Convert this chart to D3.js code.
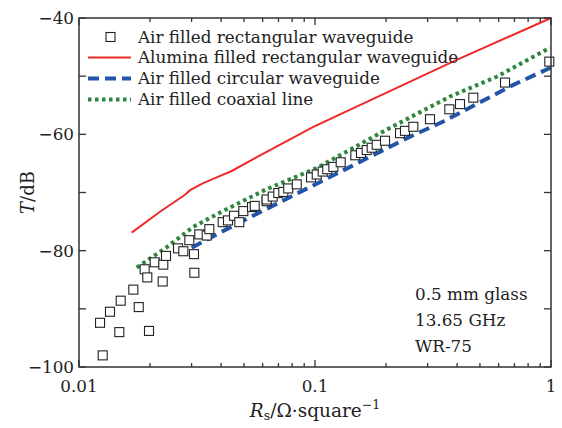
<!DOCTYPE html>
<html>
<head>
<meta charset="utf-8">
<script src="https://cdn.jsdelivr.net/npm/d3@7"></script>
<style>
  body { margin: 0; background: #fff; }
  svg text { font-family: "DejaVu Serif", "Liberation Serif", serif; fill: #222; }
</style>
</head>
<body>
<div id="chart"></div>
<script>
// air filled rectangular waveguide (measured squares)
var rectX = [0.01228, 0.01353, 0.0126, 0.01502, 0.01482, 0.01699, 0.01791, 0.0198, 0.01898, 0.01947,
  0.02093, 0.02276, 0.02263, 0.02337, 0.02628, 0.02767, 0.02934, 0.0307, 0.03082, 0.03234,
  0.03476, 0.03566, 0.04063, 0.04279, 0.04537, 0.04778, 0.04969, 0.05408, 0.05553, 0.06242,
  0.0624, 0.0662, 0.0699, 0.0734, 0.077, 0.0837, 0.0962, 0.1017, 0.1078, 0.1127, 0.1196,
  0.1285, 0.1482, 0.1566, 0.1656, 0.1739, 0.1826, 0.198, 0.2292, 0.2406, 0.261,
  0.3071, 0.3708, 0.4116, 0.4686, 0.6385, 0.9836];
var rectY = [-92.4, -90.5, -98.0, -88.6, -94.0, -86.7, -89.7, -93.8, -83.2, -84.6,
  -82.0, -82.4, -85.3, -80.9, -79.6, -80.1, -78.2, -80.6, -83.8, -77.2,
  -77.4, -76.3, -75.1, -74.8, -74.0, -75.1, -73.2, -72.5, -72.3, -71.5,
  -71.2, -70.7, -70.1, -69.9, -69.3, -68.6, -67.4, -66.9, -66.4, -66.0, -65.6,
  -64.8, -63.6, -63.2, -62.7, -62.3, -61.8, -61.1, -59.8, -59.4, -58.7,
  -57.4, -55.7, -54.8, -53.7, -51.1, -47.5];

// alumina filled rectangular waveguide
var aluX = [0.01672, 0.02204, 0.02813, 0.02954, 0.03363, 0.03833, 0.04436, 0.0624, 0.0984, 0.3985, 1.0];
var aluY = [-76.9, -73.3, -70.4, -69.6, -68.4, -67.4, -66.3, -63.0, -58.7, -47.2, -40.0];

// air filled circular waveguide
var circX = [0.03003, 0.0371, 0.0505, 0.0604, 0.2527, 0.3496, 0.6922, 1.0];
var circY = [-79.5, -77.5, -74.7, -73.1, -60.4, -57.8, -51.5, -48.5];

// air filled coaxial line
var coaxX = [0.01756, 0.02337, 0.0305, 0.04024, 0.0618, 0.1017, 0.1948, 0.3733, 0.5888, 0.9904];
var coaxY = [-82.9, -79.5, -75.9, -73.3, -69.5, -65.8, -59.5, -53.5, -50.1, -45.1];

var legendLabels = ["Air filled rectangular waveguide", "Alumina filled rectangular waveguide",
  "Air filled circular waveguide", "Air filled coaxial line"];
var noteLines = ["0.5 mm glass", "13.65 GHz", "WR-75"];
var xTickVals = [0.01, 0.1, 1];
var xTickLabels = ["0.01", "0.1", "1"];
var yTickVals = [-100, -80, -60, -40];

var WIDTH = 562, HEIGHT = 428;
var margin = {left: 79, right: 11, top: 18, bottom: 61};
var FS = 16.8;

var svg = d3.select("#chart").append("svg")
  .attr("width", WIDTH).attr("height", HEIGHT);

var x = d3.scaleLog().domain([0.01, 1]).range([margin.left, WIDTH - margin.right]);
var y = d3.scaleLinear().domain([-100, -40]).range([HEIGHT - margin.bottom, margin.top]);

var zip = function(xs, ys){ return xs.map(function(v, i){ return [v, ys[i]]; }); };
var line = d3.line().x(function(d){ return x(d[0]); }).y(function(d){ return y(d[1]); });

var plot = svg.append("g");

plot.append("path").datum(zip(aluX, aluY))
  .attr("d", line).attr("fill", "none")
  .attr("stroke", "#ee2a2a").attr("stroke-width", 2);

plot.append("path").datum(zip(circX, circY))
  .attr("d", line).attr("fill", "none")
  .attr("stroke", "#2255aa").attr("stroke-width", 4)
  .attr("stroke-dasharray", "11,6");

plot.append("path").datum(zip(coaxX, coaxY))
  .attr("d", line).attr("fill", "none")
  .attr("stroke", "#2e8540").attr("stroke-width", 4)
  .attr("stroke-dasharray", "3.5,3.5");

plot.selectAll("rect.pt")
  .data(zip(rectX, rectY)).enter()
  .append("rect").attr("class", "pt")
  .attr("x", function(d){ return x(d[0]) - 4.5; })
  .attr("y", function(d){ return y(d[1]) - 4.5; })
  .attr("width", 9).attr("height", 9)
  .attr("fill", "#fff").attr("stroke", "#222").attr("stroke-width", 1.1);

// axes, ticks pointing inward on all four sides
var axisColor = "#333";
var x0 = margin.left, x1 = WIDTH - margin.right, y0 = HEIGHT - margin.bottom, y1 = margin.top;

var xMinor = [];
[0.01, 0.1].forEach(function(dec){ for (var k = 2; k <= 9; k++) xMinor.push(dec * k); });

var axes = svg.append("g").attr("stroke", axisColor).attr("stroke-width", 1.3);

axes.selectAll("line.xmaj").data(xTickVals).enter().append("line")
  .attr("x1", function(d){ return x(d); }).attr("x2", function(d){ return x(d); })
  .attr("y1", y0).attr("y2", y0 - 7);
axes.selectAll("line.xmajt").data(xTickVals).enter().append("line")
  .attr("x1", function(d){ return x(d); }).attr("x2", function(d){ return x(d); })
  .attr("y1", y1).attr("y2", y1 + 7);
axes.selectAll("line.xmin").data(xMinor).enter().append("line")
  .attr("x1", function(d){ return x(d); }).attr("x2", function(d){ return x(d); })
  .attr("y1", y0).attr("y2", y0 - 4);
axes.selectAll("line.xmint").data(xMinor).enter().append("line")
  .attr("x1", function(d){ return x(d); }).attr("x2", function(d){ return x(d); })
  .attr("y1", y1).attr("y2", y1 + 4);

var yAll = d3.range(-100, -39, 10);
axes.selectAll("line.yl").data(yAll).enter().append("line")
  .attr("x1", x0).attr("x2", x0 + 7)
  .attr("y1", function(d){ return y(d); }).attr("y2", function(d){ return y(d); });
axes.selectAll("line.yr").data(yAll).enter().append("line")
  .attr("x1", x1).attr("x2", x1 - 7)
  .attr("y1", function(d){ return y(d); }).attr("y2", function(d){ return y(d); });

svg.append("rect")
  .attr("x", x0).attr("y", y1).attr("width", x1 - x0).attr("height", y0 - y1)
  .attr("fill", "none").attr("stroke", axisColor).attr("stroke-width", 1.5);

// tick labels
svg.selectAll("text.xt").data(xTickVals).enter().append("text")
  .attr("x", function(d){ return x(d); }).attr("y", y0 + 25)
  .attr("text-anchor", "middle").attr("font-size", FS)
  .text(function(d, i){ return xTickLabels[i]; });

svg.selectAll("text.yt").data(yTickVals).enter().append("text")
  .attr("x", x0 - 5).attr("y", function(d){ return y(d) + 6; })
  .attr("text-anchor", "end").attr("font-size", FS)
  .text(function(d){ return "\u2212" + Math.abs(d); });

// axis titles
var xt = svg.append("text").attr("x", 315).attr("y", 417)
  .attr("text-anchor", "middle").attr("font-size", 18.5);
xt.append("tspan").attr("font-style", "italic").text("R");
xt.append("tspan").attr("font-size", 12.5).attr("dy", 3).text("s");
xt.append("tspan").attr("dy", -3).text("/\u03a9\u00b7square");
xt.append("tspan").attr("font-size", 12.5).attr("dy", -8).text("\u22121");

var yt = svg.append("text")
  .attr("transform", "translate(34," + y(-70) + ") rotate(-90)")
  .attr("text-anchor", "middle").attr("font-size", 18);
yt.append("tspan").attr("font-style", "italic").text("T");
yt.append("tspan").text("/dB");

// legend
var legend = svg.append("g");
var rowY = [37, 57.5, 78.5, 99.5];
var legendStyles = [null, ["#ee2a2a", 2, null], ["#2255aa", 4, "11,6"], ["#2e8540", 4, "3.5,3.5"]];
legendLabels.forEach(function(lbl, i){
  var ly = rowY[i];
  if (i === 0) {
    legend.append("rect").attr("x", 106).attr("y", ly - 4.5).attr("width", 9).attr("height", 9)
      .attr("fill", "#fff").attr("stroke", "#222").attr("stroke-width", 1.1);
  } else {
    var st = legendStyles[i];
    legend.append("line").attr("x1", 88).attr("x2", 131).attr("y1", ly).attr("y2", ly)
      .attr("stroke", st[0]).attr("stroke-width", st[1]).attr("stroke-dasharray", st[2]);
  }
  legend.append("text").attr("x", 138).attr("y", ly + 5.5).attr("font-size", FS).text(lbl);
});

// annotation
svg.selectAll("text.note").data(noteLines).enter().append("text")
  .attr("x", 415).attr("y", function(d, i){ return 300 + i * 26; })
  .attr("font-size", FS).text(function(d){ return d; });
</script>
</body>
</html>
